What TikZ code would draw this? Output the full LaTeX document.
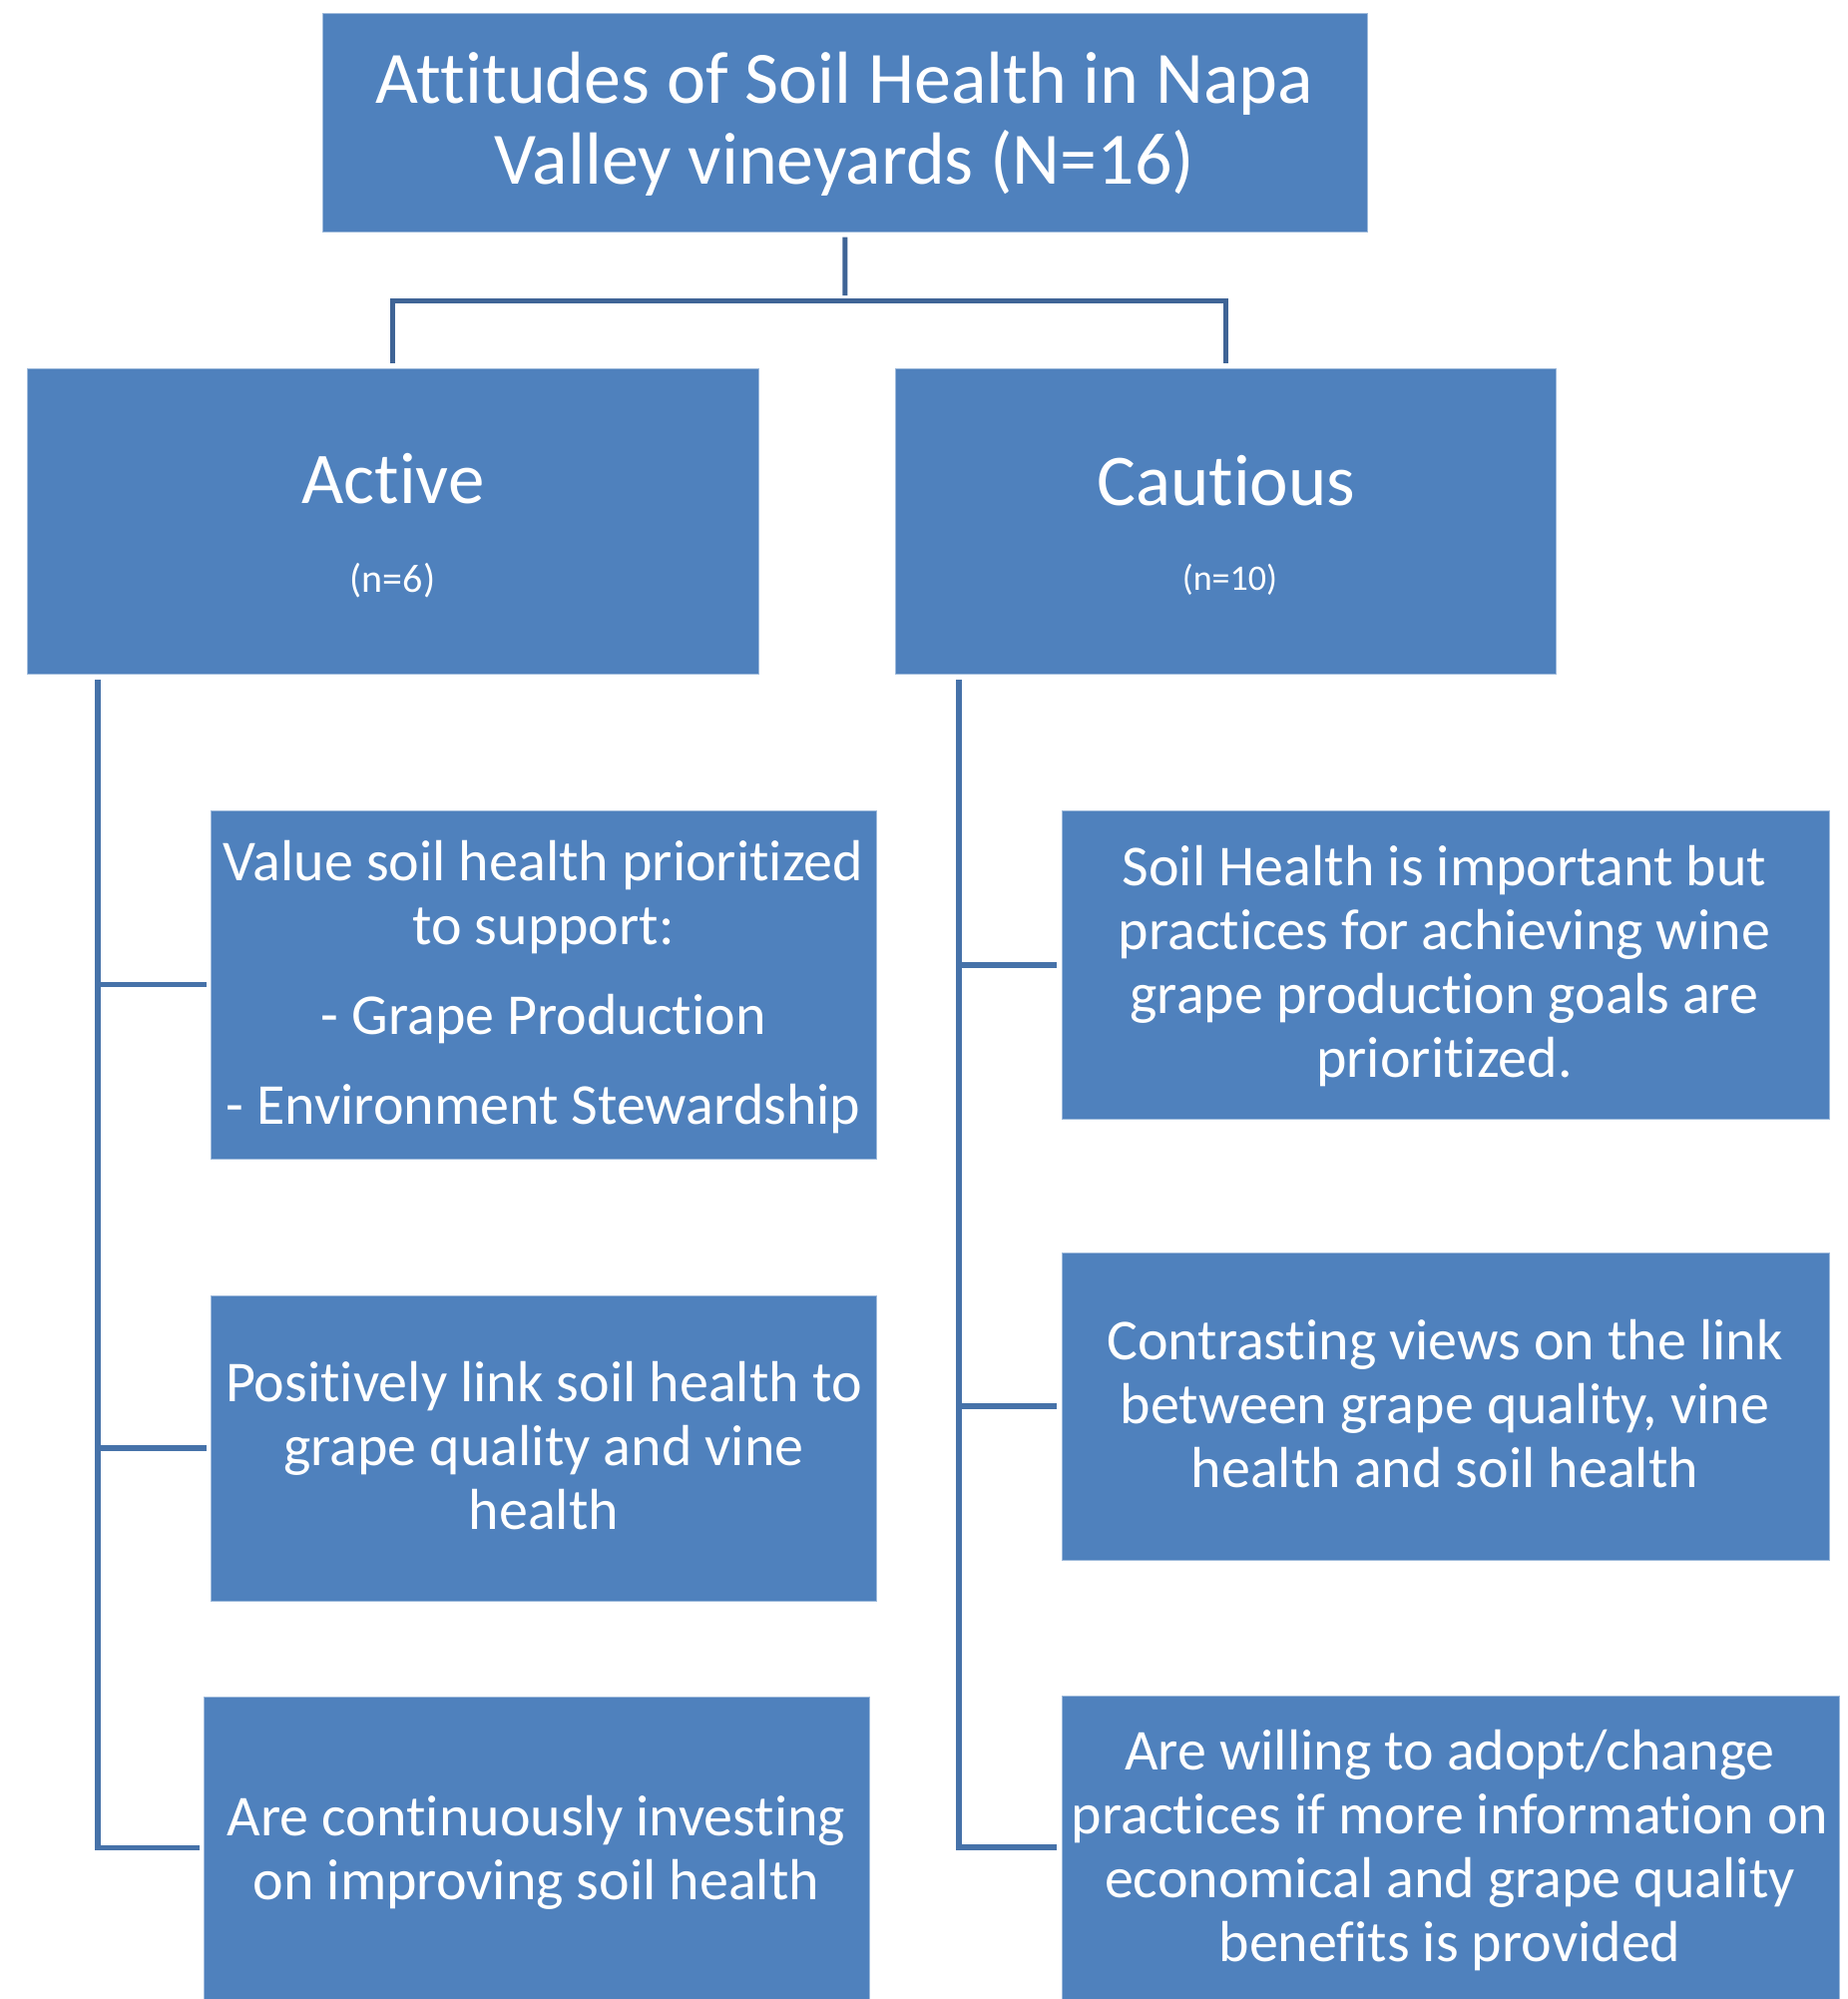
\documentclass[tikz,border=0pt]{standalone}
\usepackage{fontspec}
\setmainfont{Carlito}[Ligatures={NoCommon,NoContextual}]
\usetikzlibrary{fit}
\definecolor{boxblue}{HTML}{4F81BD}
\definecolor{linkA}{HTML}{3F6496}
\definecolor{linkB}{HTML}{4672A9}
\begin{document}
\begin{tikzpicture}[x=0.5pt,y=-0.5pt,
  box/.style={rectangle, fill=boxblue, draw=boxblue!55!white, line width=0.5pt, inner sep=0pt, outer sep=0pt},
  txt/.style={text=white, inner sep=0pt, outer sep=0pt, align=center},
  bigfont/.style={font=\fontsize{37}{40.5}\selectfont},
  headfont/.style={font=\fontsize{36.5}{40}\selectfont},
  childfont/.style={font=\fontsize{29}{32}\selectfont},
  topconn/.style={line width=2.5pt, draw=linkA, shorten <=2.5pt, shorten >=2.5pt},
  conn/.style={line width=2.6pt, draw=linkB, shorten >=2.5pt},
]
\useasboundingbox (0,0) rectangle (1852,2003);

% boxes
\node[box, fit={(323,13) (1370.7,232.7)}] (top) {};
\node[box, fit={(27,369) (760.7,675.7)}] (active) {};
\node[box, fit={(897.3,369) (1559.3,675.7)}] (cautious) {};
\node[box, fit={(211.7,812.3) (878.7,1161)}] (L1) {};
\node[box, fit={(211.7,1298) (878.7,1604)}] (L2) {};
\node[box, fit={(204.5,1700) (871.5,2003)}] (L3) {};
\node[box, fit={(1064.3,812.3) (1833,1121.6)}] (R1) {};
\node[box, fit={(1064.3,1255) (1833,1563)}] (R2) {};
\node[box, fit={(1064.3,1699) (1843,2003)}] (R3) {};

% texts
\node[txt, bigfont, anchor=north] (ttop) at (846.5,46.3)
  {\strut Attitudes of Soil Health in Napa\\\strut Valley vineyards (N=16)};
\node[txt, headfont, anchor=base] (tactive) at (394,504) {Active};
\node[txt, headfont, anchor=base] (tcautious) at (1229,506) {Cautious};
\node[txt, font=\fontsize{20}{24}\selectfont, anchor=base] (nact) at (393.5,593) {(n=6)};
\node[txt, font=\fontsize{18}{22}\selectfont, anchor=base] (ncau) at (1232.5,591) {(n=10)};

\node[txt, childfont, anchor=north] (tL1) at (544.6,837.2)
  {\strut Value soil health prioritized\\\strut to support:\\[13pt]
   \strut - Grape Production\\[13pt]\strut - Environment Stewardship};
\node[txt, childfont, anchor=north] (tL2) at (545,1359.5)
  {\strut Positively link soil health to\\\strut grape quality and vine\\\strut health};
\node[txt, childfont, anchor=north] (tL3) at (537.6,1794.5)
  {\strut Are continuously investing\\\strut on improving soil health};
\node[txt, childfont, anchor=north] (tR1) at (1447.5,842.5)
  {\strut Soil Health is important but\\\strut practices for achieving wine\\\strut grape production goals are\\\strut prioritized.};
\node[txt, childfont, anchor=north] (tR2) at (1448,1317.5)
  {\strut Contrasting views on the link\\\strut between grape quality, vine\\\strut health and soil health};
\node[txt, childfont, anchor=north] (tR3) at (1453,1729)
  {\strut Are willing to adopt/change\\\strut practices if more information on\\\strut economical and grape quality\\\strut benefits is provided};

% connectors
\coordinate (hub) at (847,301);
\draw[topconn] (top.south) -- (hub);
\draw[topconn] (active.north) |- (hub) -| (cautious.north);

\coordinate (spL) at (98,681);
\coordinate (spR) at (961,681);
\draw[conn] (spL) |- (L1.west);
\draw[conn] (spL) |- (L2.west);
\draw[conn] (spL) |- (L3.west);
\draw[conn] (spR) |- (R1.west);
\draw[conn] (spR) |- (R2.west);
\draw[conn] (spR) |- (R3.west);
\end{tikzpicture}
\end{document}
